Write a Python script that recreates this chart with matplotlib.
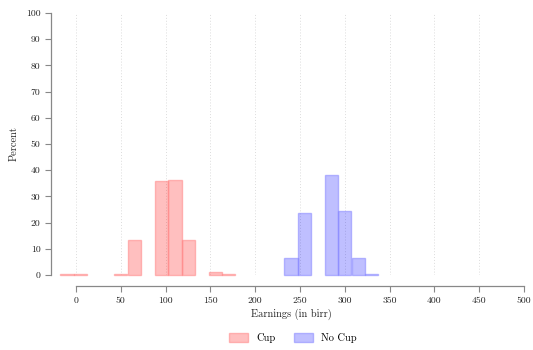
import numpy as np
import matplotlib
matplotlib.use("Agg")
import matplotlib.pyplot as plt

plt.rcParams['font.family'] = ['cmr10', 'DejaVu Serif']
plt.rcParams['axes.formatter.use_mathtext'] = True
plt.rcParams['mathtext.fontset'] = 'cm'

# histogram bins (centre in birr, percent)
bin_width = 14.75
cup_centers = [-10, 5, 50, 65, 95.5, 110.5, 125.5, 155.5, 170]
cup_pct = [0.2, 0.2, 0.2, 13.2, 35.8, 36.1, 13.3, 1.0, 0.3]
nocup_centers = [240, 255, 285, 300, 315, 330]
nocup_pct = [6.3, 23.5, 38.2, 24.3, 6.3, 0.4]

x_ticks = list(range(0, 501, 50))
y_ticks = list(range(0, 101, 10))

fig = plt.figure(figsize=(5.33, 3.5), dpi=100)
ax = fig.add_axes([58 / 533, 75 / 350, 466 / 533, 262 / 350])

ax.bar(cup_centers, cup_pct, width=bin_width, color=(1, 0, 0, 0.25),
       edgecolor=(1, 0.55, 0.55, 0.6), linewidth=1.0, label='Cup', clip_on=False)
ax.bar(nocup_centers, nocup_pct, width=bin_width, color=(0, 0, 1, 0.25),
       edgecolor=(0.55, 0.55, 1, 0.6), linewidth=1.0, label='No Cup', clip_on=False)

ax.set_xlim(-20, 500)
ax.set_ylim(0, 100)
ax.set_xticks(x_ticks)
ax.set_yticks(y_ticks)
for x in x_ticks:
    ax.axvline(x, color='#dcdcdc', linestyle=(0, (1, 2)), linewidth=0.7, zorder=0)

for s in ['top', 'right']:
    ax.spines[s].set_visible(False)
ax.spines['left'].set_position(('outward', 5))
ax.spines['bottom'].set_position(('outward', 8))
ax.spines['left'].set_bounds(0, 100)
ax.spines['bottom'].set_bounds(0, 500)
for s in ['left', 'bottom']:
    ax.spines[s].set_color('#888888')
    ax.spines[s].set_linewidth(0.9)
ax.tick_params(axis='both', colors='#888888', labelcolor='#222222',
               labelsize=7, length=4, width=0.8)
ax.set_yticklabels([str(v) for v in y_ticks])
ax.set_xticklabels([str(v) for v in x_ticks])

ax.set_ylabel('Percent', fontsize=7.5, color='#222222', labelpad=5)
ax.set_xlabel('Earnings (in birr)', fontsize=7.5, color='#222222', labelpad=3)

fig.legend(loc='center', bbox_to_anchor=(293 / 533, 1 - 338 / 350), ncol=2,
           frameon=False, fontsize=7.5, handlelength=1.8, handleheight=0.9,
           columnspacing=1.8)

fig.savefig('out.png', dpi=100)
